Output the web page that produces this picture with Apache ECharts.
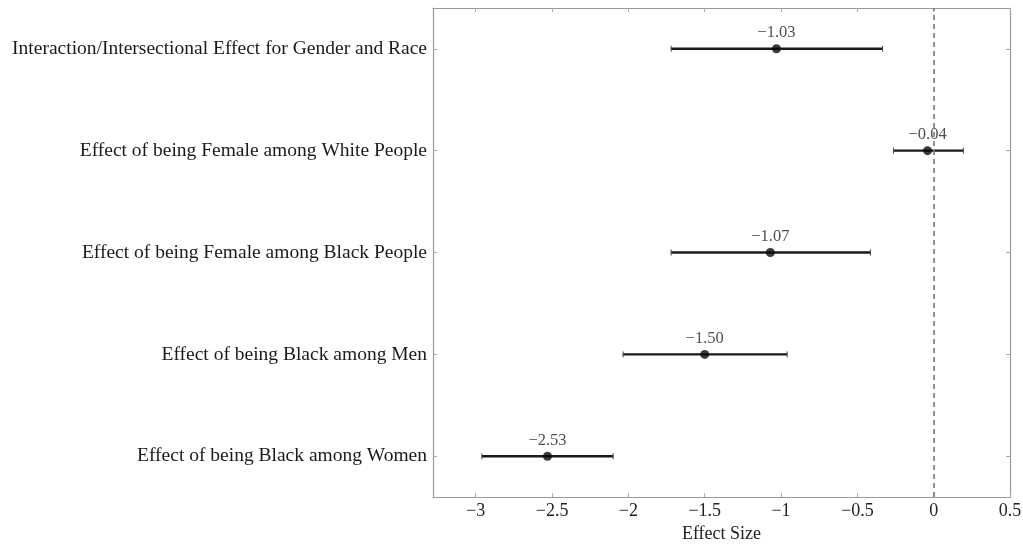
<!DOCTYPE html>
<html>
<head>
<meta charset="utf-8">
<script src="https://cdn.jsdelivr.net/npm/echarts@6/dist/echarts.min.js"></script>
<style>html,body{margin:0;padding:0;background:#fff}#c{width:1023px;height:546px}</style>
</head>
<body>
<div id="c"></div>
<script>
const categories = [
  "Effect of being Black among Women",
  "Effect of being Black among Men",
  "Effect of being Female among Black People",
  "Effect of being Female among White People",
  "Interaction/Intersectional Effect for Gender and Race"
];
const estimates = [-2.53, -1.50, -1.07, -0.04, -1.03];
const lowerCI = [-2.96, -2.035, -1.72, -0.263, -1.72];
const upperCI = [-2.10, -0.96, -0.414, 0.195, -0.335];
const xTicks = [-3, -2.5, -2, -1.5, -1, -0.5, 0, 0.5];

const FONT = '"Liberation Serif", "DejaVu Serif", serif';
const fmt = v => (v < 0 ? '\u2212' : '') + Math.abs(v);
const fmt2 = v => (v < 0 ? '\u2212' : '') + Math.abs(v).toFixed(2);

const chart = echarts.init(document.getElementById('c'));
const axisLineStyle = {color: '#999', width: 1.2};
const tickStyle = {color: '#aaa', width: 1};
const yIdx = categories.map((_, i) => i);

chart.setOption({
  animation: false,
  grid: {left: 433, right: 13, top: 8, bottom: 49, containLabel: false, outerBoundsMode: 'none'},
  xAxis: [{
    type: 'value', min: -3.28, max: 0.5, position: 'bottom',
    axisLine: {show: true, onZero: false, lineStyle: axisLineStyle},
    axisTick: {show: true, inside: true, length: 4, customValues: xTicks, lineStyle: tickStyle},
    axisLabel: {customValues: xTicks, formatter: v => fmt(v), fontFamily: FONT, fontSize: 18, color: '#222', margin: 5},
    splitLine: {show: false},
    name: 'Effect Size', nameLocation: 'middle', nameGap: 28,
    nameTextStyle: {fontFamily: FONT, fontSize: 18, color: '#222'}
  }, {
    type: 'value', min: -3.28, max: 0.5, position: 'top',
    axisLine: {show: true, onZero: false, lineStyle: axisLineStyle},
    axisTick: {show: true, inside: true, length: 4, customValues: xTicks, lineStyle: tickStyle},
    axisLabel: {show: false}, splitLine: {show: false}
  }],
  yAxis: [{
    type: 'value', min: -0.4, max: 4.4, position: 'left',
    axisLine: {show: true, onZero: false, lineStyle: axisLineStyle},
    axisTick: {show: true, inside: true, length: 4, customValues: yIdx, lineStyle: tickStyle},
    axisLabel: {customValues: yIdx, formatter: v => categories[Math.round(v)] || '', fontFamily: FONT, fontSize: 19.5, color: '#1a1a1a', margin: 6},
    splitLine: {show: false}
  }, {
    type: 'value', min: -0.4, max: 4.4, position: 'right',
    axisLine: {show: true, onZero: false, lineStyle: axisLineStyle},
    axisTick: {show: true, inside: true, length: 4, customValues: yIdx, lineStyle: tickStyle},
    axisLabel: {show: false}, splitLine: {show: false}
  }],
  series: [{
    type: 'custom',
    xAxisIndex: 0, yAxisIndex: 0,
    data: categories.map((_, i) => [lowerCI[i], upperCI[i], i]),
    renderItem: function (params, api) {
      const y = api.value(2);
      const p1 = api.coord([api.value(0), y]);
      const p2 = api.coord([api.value(1), y]);
      const st = {stroke: '#1a1a1a', lineWidth: 2.4};
      const cap = 3;
      return {type: 'group', children: [
        {type: 'line', shape: {x1: p1[0], y1: p1[1], x2: p2[0], y2: p2[1]}, style: st},
        {type: 'line', shape: {x1: p1[0], y1: p1[1] - cap, x2: p1[0], y2: p1[1] + cap}, style: {stroke: '#444', lineWidth: 1}},
        {type: 'line', shape: {x1: p2[0], y1: p2[1] - cap, x2: p2[0], y2: p2[1] + cap}, style: {stroke: '#444', lineWidth: 1}}
      ]};
    },
    z: 2
  }, {
    type: 'scatter',
    xAxisIndex: 0, yAxisIndex: 0,
    data: estimates.map((v, i) => [v, i]),
    symbol: 'circle', symbolSize: 9,
    itemStyle: {color: '#0a0a0a'},
    label: {show: true, position: 'top', distance: 3, formatter: p => fmt2(p.value[0]), fontFamily: FONT, fontSize: 16.5, color: '#222'},
    z: 4
  }, {
    type: 'line',
    xAxisIndex: 0, yAxisIndex: 0,
    data: [],
    markLine: {
      silent: true, symbol: 'none', label: {show: false},
      lineStyle: {color: '#777', type: [5, 4], width: 1.6},
      data: [{xAxis: 0}]
    },
    z: 1
  }]
});
</script>
</body>
</html>
